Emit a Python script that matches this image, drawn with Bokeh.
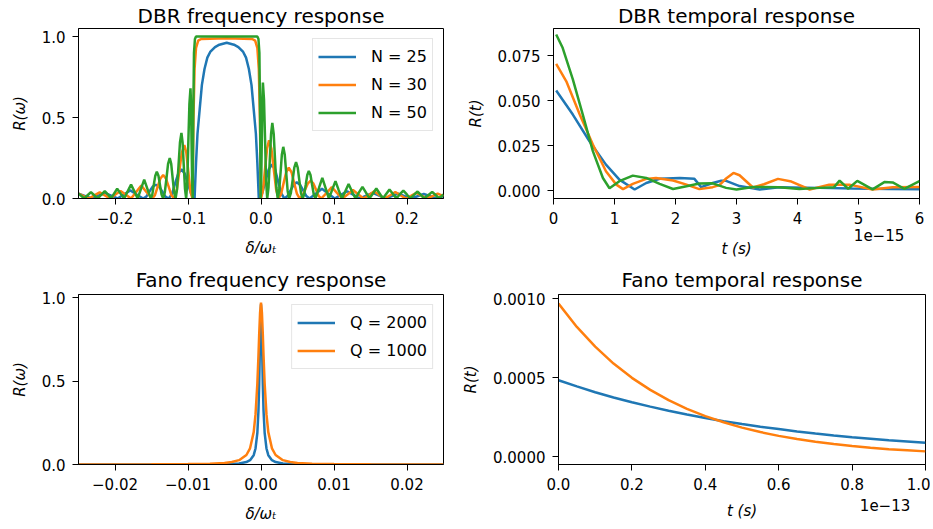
from bokeh.plotting import figure
from bokeh.layouts import column, row
from bokeh.models import FixedTicker, Range1d, LinearAxis
from bokeh.embed import file_html
from bokeh.resources import INLINE

# ---------------- data ----------------
# DBR frequency response: (delta/omega_t, R) points per series
dbr_n25 = [
    (-0.250, 0.030), (-0.2405, 0.015), (-0.2315, 0.000), (-0.2228, 0.018), (-0.214, 0.035),
    (-0.2053, 0.018), (-0.1965, 0.000), (-0.1878, 0.025), (-0.179, 0.050), (-0.1703, 0.025),
    (-0.1615, 0.000), (-0.1571, 0.012), (-0.1528, 0.043), (-0.1484, 0.073), (-0.144, 0.085),
    (-0.1396, 0.073), (-0.1353, 0.043), (-0.1309, 0.012), (-0.1265, 0.000), (-0.1221, 0.026),
    (-0.1178, 0.090), (-0.1134, 0.154), (-0.109, 0.180), (-0.1045, 0.154), (-0.100, 0.090),
    (-0.0955, 0.026), (-0.091, 0.000), (-0.089, 0.220), (-0.087, 0.400), (-0.084, 0.550),
    (-0.081, 0.700), (-0.0774, 0.800), (-0.0735, 0.870), (-0.0696, 0.905), (-0.063, 0.935),
    (-0.057, 0.950), (-0.047, 0.962), (-0.037, 0.950), (-0.031, 0.935), (-0.0244, 0.905),
    (-0.0205, 0.870), (-0.0166, 0.800), (-0.013, 0.700), (-0.010, 0.550), (-0.007, 0.400),
    (-0.005, 0.220), (-0.003, 0.000), (0.0015, 0.031), (0.006, 0.105), (0.0105, 0.179),
    (0.015, 0.210), (0.0193, 0.179), (0.0235, 0.105), (0.0278, 0.031), (0.032, 0.000),
    (0.0363, 0.015), (0.0405, 0.050), (0.0448, 0.085), (0.049, 0.100), (0.0534, 0.085),
    (0.0578, 0.050), (0.0621, 0.015), (0.0665, 0.000), (0.075, 0.030), (0.0835, 0.060),
    (0.0923, 0.030), (0.101, 0.000), (0.1095, 0.022), (0.118, 0.045), (0.1268, 0.022),
    (0.1355, 0.000), (0.1443, 0.018), (0.153, 0.035), (0.1618, 0.018), (0.1705, 0.000),
    (0.1793, 0.015), (0.188, 0.030), (0.1968, 0.015), (0.2055, 0.000), (0.2143, 0.014),
    (0.223, 0.028), (0.2318, 0.014), (0.2405, 0.000), (0.250, 0.015),
]
dbr_n30 = [
    (-0.250, 0.030), (-0.243, 0.015), (-0.2355, 0.000), (-0.2283, 0.019), (-0.221, 0.038),
    (-0.2138, 0.019), (-0.2065, 0.000), (-0.1995, 0.024), (-0.1925, 0.047), (-0.1855, 0.024),
    (-0.178, 0.000), (-0.171, 0.040), (-0.164, 0.080), (-0.157, 0.040), (-0.149, 0.000),
    (-0.1453, 0.021), (-0.1415, 0.073), (-0.1378, 0.124), (-0.134, 0.145), (-0.1303, 0.124),
    (-0.1265, 0.073), (-0.1228, 0.021), (-0.119, 0.000), (-0.1155, 0.048), (-0.112, 0.165),
    (-0.1085, 0.282), (-0.105, 0.330), (-0.1023, 0.282), (-0.0995, 0.165), (-0.0968, 0.048),
    (-0.094, 0.000), (-0.0925, 0.500), (-0.091, 0.800), (-0.089, 0.930), (-0.086, 0.975),
    (-0.082, 0.985), (-0.047, 0.990), (-0.012, 0.985), (-0.008, 0.975), (-0.005, 0.930),
    (-0.003, 0.800), (-0.0015, 0.500), (0.000, 0.000), (0.0028, 0.053), (0.0055, 0.180),
    (0.0083, 0.307), (0.011, 0.360), (0.0143, 0.307), (0.0175, 0.180), (0.0208, 0.053),
    (0.024, 0.000), (0.0275, 0.028), (0.031, 0.095), (0.0345, 0.162), (0.038, 0.190),
    (0.0418, 0.162), (0.0455, 0.095), (0.0493, 0.028), (0.053, 0.000), (0.0568, 0.016),
    (0.0605, 0.055), (0.0643, 0.094), (0.068, 0.110), (0.0716, 0.094), (0.0753, 0.055),
    (0.0789, 0.016), (0.0825, 0.000), (0.090, 0.035), (0.097, 0.070), (0.104, 0.035),
    (0.1115, 0.000), (0.119, 0.026), (0.126, 0.052), (0.133, 0.026), (0.1405, 0.000),
    (0.148, 0.022), (0.155, 0.045), (0.162, 0.022), (0.1695, 0.000), (0.177, 0.020),
    (0.184, 0.040), (0.191, 0.020), (0.1985, 0.000), (0.206, 0.018), (0.213, 0.035),
    (0.220, 0.018), (0.2275, 0.000), (0.235, 0.015), (0.242, 0.030), (0.250, 0.015),
]
dbr_n50 = [
    (-0.250, 0.030), (-0.246, 0.015), (-0.242, 0.000), (-0.2375, 0.020), (-0.233, 0.040),
    (-0.2285, 0.020), (-0.2235, 0.000), (-0.2188, 0.023), (-0.214, 0.046), (-0.2093, 0.023),
    (-0.2055, 0.000), (-0.2013, 0.030), (-0.197, 0.060), (-0.1923, 0.030), (-0.1875, 0.000),
    (-0.1828, 0.043), (-0.178, 0.086), (-0.1733, 0.043), (-0.169, 0.000), (-0.1645, 0.058),
    (-0.160, 0.117), (-0.1555, 0.058), (-0.151, 0.000), (-0.1489, 0.024), (-0.1469, 0.083),
    (-0.1448, 0.141), (-0.1427, 0.165), (-0.1405, 0.141), (-0.1384, 0.083), (-0.1362, 0.024),
    (-0.134, 0.000), (-0.1318, 0.037), (-0.1295, 0.125), (-0.1273, 0.214), (-0.125, 0.250),
    (-0.123, 0.214), (-0.121, 0.125), (-0.119, 0.037), (-0.117, 0.000), (-0.115, 0.059),
    (-0.113, 0.203), (-0.111, 0.346), (-0.109, 0.405), (-0.1074, 0.346), (-0.1058, 0.203),
    (-0.1041, 0.059), (-0.1025, 0.000), (-0.1010, 0.099), (-0.0996, 0.340), (-0.0981, 0.581),
    (-0.0966, 0.680), (-0.0958, 0.581), (-0.0951, 0.340), (-0.0943, 0.099), (-0.0935, 0.000),
    (-0.0928, 0.500), (-0.0918, 0.900), (-0.0905, 0.985), (-0.089, 1.000), (-0.005, 1.000),
    (-0.0035, 0.985), (-0.0022, 0.900), (-0.0012, 0.500), (-0.0005, 0.000), (0.0003, 0.105),
    (0.0011, 0.358), (0.0018, 0.611), (0.0026, 0.716), (0.0041, 0.611), (0.0056, 0.358),
    (0.0070, 0.105), (0.0085, 0.000), (0.0103, 0.068), (0.0120, 0.234), (0.0138, 0.399),
    (0.0155, 0.467), (0.0174, 0.399), (0.0193, 0.234), (0.0211, 0.068), (0.0230, 0.000),
    (0.0249, 0.047), (0.0268, 0.160), (0.0286, 0.272), (0.0305, 0.319), (0.0325, 0.272),
    (0.0345, 0.160), (0.0365, 0.047), (0.0385, 0.000), (0.0409, 0.033), (0.0433, 0.112),
    (0.0456, 0.191), (0.0480, 0.224), (0.0503, 0.191), (0.0525, 0.112), (0.0548, 0.033),
    (0.0570, 0.000), (0.0591, 0.025), (0.0613, 0.085), (0.0634, 0.145), (0.0655, 0.170),
    (0.0678, 0.145), (0.0700, 0.085), (0.0723, 0.025), (0.0745, 0.000), (0.0793, 0.064),
    (0.0840, 0.128), (0.0885, 0.064), (0.0930, 0.000), (0.0975, 0.053), (0.1020, 0.107),
    (0.1063, 0.053), (0.1110, 0.000), (0.1155, 0.045), (0.1200, 0.090), (0.1245, 0.045),
    (0.1295, 0.000), (0.1340, 0.036), (0.1390, 0.072), (0.1438, 0.036), (0.1485, 0.000),
    (0.1533, 0.031), (0.1580, 0.062), (0.1625, 0.031), (0.1670, 0.000), (0.1715, 0.028),
    (0.1760, 0.056), (0.1808, 0.028), (0.1855, 0.000), (0.1900, 0.025), (0.1950, 0.049),
    (0.1998, 0.025), (0.2045, 0.000), (0.2095, 0.022), (0.2145, 0.043), (0.2190, 0.022),
    (0.2235, 0.000), (0.2290, 0.020), (0.2345, 0.041), (0.2395, 0.020), (0.2440, 0.000),
    (0.2500, 0.025),
]

# DBR temporal response, t in units of 1e-15 s
dbrt_n25_t = [0.044, 0.317, 0.59, 0.86, 1.08, 1.33, 1.52, 1.74, 2.07, 2.31, 2.42, 2.61, 2.75, 2.83,
              3.05, 3.38, 3.7, 4.36, 4.9, 5.5, 6.0]
dbrt_n25_r = [0.0556, 0.0422, 0.0274, 0.0144, 0.0061, 0.0006, 0.0042, 0.0066, 0.0070, 0.0065, 0.0019,
              0.0042, 0.0055, 0.0054, 0.0025, 0.0006, 0.0018, 0.0015, 0.0011, 0.0009, 0.0007]
dbrt_n30_t = [0.044, 0.21, 0.43, 0.645, 0.86, 1.03, 1.14, 1.3, 1.52, 1.68, 1.96, 2.18, 2.39, 2.61,
              2.72, 2.83, 2.95, 3.05, 3.27, 3.45, 3.68, 3.9, 4.2, 4.52, 4.85, 5.23, 5.56, 6.0]
dbrt_n30_r = [0.0704, 0.0607, 0.0422, 0.0256, 0.0107, 0.0033, 0.0008, 0.0037, 0.0065, 0.0070, 0.0056,
              0.0033, 0.0008, 0.0019, 0.0030, 0.0067, 0.0098, 0.0085, 0.0017, 0.0035, 0.0065, 0.0050,
              0.0006, 0.0033, 0.0033, 0.0006, 0.0019, 0.0020]
dbrt_n50_t = [0.044, 0.15, 0.317, 0.48, 0.645, 0.81, 0.918, 1.08, 1.3, 1.52, 1.74, 1.96, 2.18, 2.39,
              2.61, 2.83, 3.0, 3.27, 3.7, 4.03, 4.36, 4.6, 4.69, 4.83, 4.98, 5.23, 5.43, 5.56, 5.75, 6.0]
dbrt_n50_r = [0.0867, 0.0793, 0.0617, 0.0422, 0.0219, 0.0070, 0.0013, 0.0052, 0.0083, 0.0070, 0.0037,
              0.0009, 0.0024, 0.0039, 0.0040, 0.0015, 0.0006, 0.0020, 0.0019, 0.0009, 0.0015, 0.0019,
              0.0055, 0.0010, 0.0054, 0.0007, 0.0048, 0.0045, 0.0010, 0.0052]

# Fano frequency response
fano_x = [-0.025, -0.02, -0.015, -0.01, -0.007, -0.005, -0.004, -0.003, -0.002, -0.0015, -0.001,
          -0.00075, -0.0005, -0.00035, -0.00025, -0.000125, 0.0, 0.000125, 0.00025, 0.00035, 0.0005,
          0.00075, 0.001, 0.0015, 0.002, 0.003, 0.004, 0.005, 0.007, 0.01, 0.015, 0.02, 0.025]
fano_q2000_r = [0.0001, 0.00015, 0.00027, 0.0006, 0.0012, 0.0024, 0.0037, 0.0066, 0.0148, 0.026, 0.056,
                0.096, 0.19, 0.32, 0.48, 0.77, 0.96, 0.77, 0.48, 0.32, 0.19,
                0.096, 0.056, 0.026, 0.0148, 0.0066, 0.0037, 0.0024, 0.0012, 0.0006, 0.00027, 0.00015, 0.0001]
fano_q1000_r = [0.0004, 0.0006, 0.0011, 0.0024, 0.0049, 0.0096, 0.015, 0.026, 0.057, 0.097, 0.194,
                0.30, 0.485, 0.65, 0.776, 0.91, 0.97, 0.91, 0.776, 0.65, 0.485,
                0.30, 0.194, 0.097, 0.057, 0.026, 0.015, 0.0096, 0.0049, 0.0024, 0.0011, 0.0006, 0.0004]

# Fano temporal response, t in units of 1e-13 s
fanot_t = [0.0, 0.05, 0.10, 0.15, 0.20, 0.25, 0.30, 0.35, 0.40, 0.45, 0.50,
           0.55, 0.60, 0.65, 0.70, 0.75, 0.80, 0.85, 0.90, 0.95, 1.00]
fanot_q2000_r = [485e-6, 446e-6, 409e-6, 376e-6, 346e-6, 318e-6, 292e-6, 268e-6, 246e-6, 226e-6, 208e-6,
                 191e-6, 176e-6, 161e-6, 148e-6, 136e-6, 125e-6, 115e-6, 105e-6, 97e-6, 89e-6]
fanot_q1000_r = [970e-6, 822e-6, 697e-6, 590e-6, 500e-6, 424e-6, 359e-6, 304e-6, 258e-6, 219e-6, 185e-6,
                 157e-6, 133e-6, 113e-6, 96e-6, 81e-6, 69e-6, 58e-6, 49e-6, 42e-6, 35e-6]

# tick positions / labels
dbrf_xticks = [-0.2, -0.1, 0.0, 0.1, 0.2]
dbrf_xlabels = ["\u22120.2", "\u22120.1", "0.0", "0.1", "0.2"]
unit_yticks = [0.0, 0.5, 1.0]
unit_ylabels = ["0.0", "0.5", "1.0"]
dbrt_xticks = [0, 1, 2, 3, 4, 5, 6]
dbrt_xlabels = ["0", "1", "2", "3", "4", "5", "6"]
dbrt_yticks = [0.0, 0.025, 0.05, 0.075]
dbrt_ylabels = ["0.000", "0.025", "0.050", "0.075"]
dbrt_offset_tick = [6.0]
dbrt_offset_label = ["1e\u221215"]
fanof_xticks = [-0.02, -0.01, 0.0, 0.01, 0.02]
fanof_xlabels = ["\u22120.02", "\u22120.01", "0.00", "0.01", "0.02"]
fanot_xticks = [0.0, 0.2, 0.4, 0.6, 0.8, 1.0]
fanot_xlabels = ["0.0", "0.2", "0.4", "0.6", "0.8", "1.0"]
fanot_yticks = [0.0, 0.0005, 0.001]
fanot_ylabels = ["0.0000", "0.0005", "0.0010"]
fanot_offset_tick = [1.0]
fanot_offset_label = ["1e\u221213"]

# ---------------- styling ----------------
BLUE, ORANGE, GREEN = "#1f77b4", "#ff7f0e", "#2ca02c"
FONT = "DejaVu Sans"
TICK_SIZE = "15px"
LABEL_SIZE = "15px"
TITLE_SIZE = "20px"
LW = 2.5


def xs(pairs):
    return [a for a, _ in pairs]


def ys(pairs):
    return [b for _, b in pairs]


def style_axis(ax, ticks, labels):
    ax.ticker = FixedTicker(ticks=ticks)
    ax.major_label_overrides = dict(zip(ticks, labels))
    ax.major_tick_out = 6
    ax.major_tick_in = 0
    ax.major_tick_line_color = "black"
    ax.major_tick_line_width = 1
    ax.minor_tick_line_color = None
    ax.axis_line_color = "black"
    ax.axis_line_width = 1
    ax.major_label_text_font = FONT
    ax.major_label_text_font_size = TICK_SIZE
    ax.major_label_text_color = "black"
    ax.axis_label_text_font = FONT
    ax.axis_label_text_font_size = LABEL_SIZE
    ax.axis_label_text_color = "black"
    ax.axis_label_text_font_style = "italic"


def make_fig(fw, fh, left, right, top, bottom, title, xr, yr,
             xticks, xlabels, yticks, ylabels, xlabel, ylabel, title_standoff):
    p = figure(frame_width=fw, frame_height=fh,
               min_border_left=left, min_border_right=right,
               min_border_top=top, min_border_bottom=bottom,
               x_range=Range1d(*xr), y_range=Range1d(*yr),
               output_backend="svg", toolbar_location=None, title=title)
    p.title.text_font = FONT
    p.title.text_font_size = TITLE_SIZE
    p.title.text_font_style = "normal"
    p.title.text_color = "black"
    p.title.align = "center"
    p.title.standoff = title_standoff
    p.grid.visible = False
    p.outline_line_color = "black"
    p.outline_line_alpha = 1.0
    p.outline_line_width = 1
    p.background_fill_color = "white"
    p.border_fill_color = "white"
    style_axis(p.xaxis[0], xticks, xlabels)
    style_axis(p.yaxis[0], yticks, ylabels)
    p.xaxis.axis_label = xlabel
    p.yaxis.axis_label = ylabel
    p.xaxis.major_label_standoff = 7
    p.yaxis.major_label_standoff = 7
    p.xaxis.axis_label_standoff = 12
    p.yaxis.axis_label_standoff = 10
    return p


def add_offset_axis(p, tick, label, xlabel, tick_standoff, label_standoff):
    # second, line-less axis below the first one: carries the "1e-15" offset text
    # (right-aligned at the last tick) and the x-axis title, as matplotlib does
    ax = LinearAxis()
    style_axis(ax, tick, label)
    ax.axis_line_color = None
    ax.major_tick_line_color = None
    ax.major_tick_out = 0
    ax.major_label_standoff = tick_standoff
    ax.major_label_text_align = "right"
    ax.axis_label = xlabel
    ax.axis_label_standoff = label_standoff
    p.add_layout(ax, "below")


def style_legend(p, label_width):
    lg = p.legend[0]
    lg.location = "top_right"
    lg.margin = 10
    lg.padding = 5
    lg.spacing = 3
    lg.glyph_width = 38
    lg.glyph_height = 25
    lg.label_height = 25
    lg.label_width = label_width
    lg.label_standoff = 15
    lg.label_text_font = FONT
    lg.label_text_font_size = "16px"
    lg.label_text_color = "black"
    lg.border_line_color = "#cccccc"
    lg.border_line_width = 1
    lg.background_fill_color = "white"
    lg.background_fill_alpha = 0.8


# DBR frequency response
p1 = make_fig(365, 170, 78, 16, 21, 64, "DBR frequency response", (-0.25, 0.25), (0.0, 1.05),
              dbrf_xticks, dbrf_xlabels, unit_yticks, unit_ylabels, "\u03b4/\u03c9\u209c", "R(\u03c9)", 2)
p1.line(xs(dbr_n25), ys(dbr_n25), color=BLUE, line_width=LW, legend_label="N = 25")
p1.line(xs(dbr_n30), ys(dbr_n30), color=ORANGE, line_width=LW, legend_label="N = 30")
p1.line(xs(dbr_n50), ys(dbr_n50), color=GREEN, line_width=LW, legend_label="N = 50")
style_legend(p1, 56)

# DBR temporal response
p2 = make_fig(366, 170, 94, 5, 21, 64, "DBR temporal response", (0.0, 6.0), (-0.0044, 0.090),
              dbrt_xticks, dbrt_xlabels, dbrt_yticks, dbrt_ylabels, None, "R(t)", 2)
p2.line(dbrt_n25_t, dbrt_n25_r, color=BLUE, line_width=LW)
p2.line(dbrt_n30_t, dbrt_n30_r, color=ORANGE, line_width=LW)
p2.line(dbrt_n50_t, dbrt_n50_r, color=GREEN, line_width=LW)
add_offset_axis(p2, dbrt_offset_tick, dbrt_offset_label, "t (s)", 2, -4)

# Fano frequency response
p3 = make_fig(365, 170, 78, 16, 32, 56, "Fano frequency response", (-0.025, 0.025), (0.0, 1.018),
              fanof_xticks, fanof_xlabels, unit_yticks, unit_ylabels, "\u03b4/\u03c9\u209c", "R(\u03c9)", 6)
p3.line(fano_x, fano_q2000_r, color=BLUE, line_width=LW, legend_label="Q = 2000")
p3.line(fano_x, fano_q1000_r, color=ORANGE, line_width=LW, legend_label="Q = 1000")
style_legend(p3, 76)

# Fano temporal response
p4 = make_fig(367, 170, 93, 5, 32, 56, "Fano temporal response", (0.0, 1.0), (-0.000048, 0.001027),
              fanot_xticks, fanot_xlabels, fanot_yticks, fanot_ylabels, None, "R(t)", 6)
p4.line(fanot_t, fanot_q2000_r, color=BLUE, line_width=LW)
p4.line(fanot_t, fanot_q1000_r, color=ORANGE, line_width=LW)
add_offset_axis(p4, fanot_offset_tick, fanot_offset_label, "t (s)", 6, -12)

layout = column(row(p1, p2), row(p3, p4))
open("out.html", "w").write(file_html(layout, INLINE))
